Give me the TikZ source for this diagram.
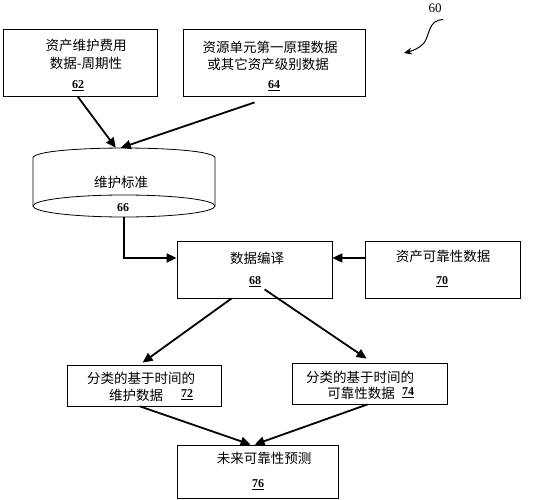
\documentclass[tikz,border=0pt]{standalone}
\usepackage{fontspec}
\setmainfont{Liberation Serif}
\newfontfamily\cjk{Noto Sans CJK SC}
\usetikzlibrary{arrows.meta,calc}
\tikzset{
  box/.style={draw, line width=0.8pt, inner sep=0pt, anchor=center},
  zh/.style={inner sep=0pt, anchor=center, font=\cjk\fontsize{13.5}{15}\selectfont},
  num/.style={inner sep=0pt, anchor=center, font=\fontsize{12}{14}\selectfont\bfseries},
  flow/.style={line width=1.8pt, -{Triangle[length=10pt,width=9pt]}},
}
\begin{document}
\begin{tikzpicture}[x=1pt,y=-1pt]
\useasboundingbox (0,0) rectangle (552,500);
% boxes
\node[box, minimum width=154pt, minimum height=67pt] (b62) at (80,62.5) {};
\node[box, minimum width=182pt, minimum height=67pt] (b64) at (274,62.5) {};
\node[box, minimum width=155pt, minimum height=57pt] (b68) at (254.5,269.5) {};
\node[box, minimum width=155pt, minimum height=57pt] (b70) at (442.5,269.5) {};
\node[box, minimum width=154pt, minimum height=41pt] (b72) at (144,385.5) {};
\node[box, minimum width=155pt, minimum height=41pt] (b74) at (369.5,383.5) {};
\node[box, minimum width=161pt, minimum height=53pt] (b76) at (257.5,471.5) {};
% cylinder
\node[inner sep=0pt, minimum width=182pt, minimum height=69pt] (c66) at (124,182.5) {};
\draw[line width=0.8pt] (33,206) -- (33,158) .. controls (33,144.7) and (215,144.7) .. (215,158) -- (215,206);
\draw[line width=0.8pt] (124,206) ellipse [x radius=91, y radius=11];
% texts
\node[zh] (t62a) at (86,45) {资产维护费用};
\node[zh] (t62b) at (86,63) {数据-周期性};
\node[num] (n62) at (78,86) {\underline{62}};
\node[zh] (t64a) at (270,47) {资源单元第一原理数据};
\node[zh] (t64b) at (268,64) {或其它资产级别数据};
\node[num] (n64) at (274,86) {\underline{64}};
\node[zh] (t66) at (121,182) {维护标准};
\node[num] (n66) at (123,208) {66};
\node[zh] (t68) at (257,258) {数据编译};
\node[num] (n68) at (255,282) {\underline{68}};
\node[zh] (t70) at (443,256) {资产可靠性数据};
\node[num] (n70) at (442,282) {\underline{70}};
\node[zh] (t72a) at (141,378) {分类的基于时间的};
\node[zh] (t72b) at (136,395) {维护数据};
\node[num] (n72) at (187,395) {\underline{72}};
\node[zh] (t74a) at (360,377) {分类的基于时间的};
\node[zh] (t74b) at (361,393) {可靠性数据};
\node[num] (n74) at (408,393) {\underline{74}};
\node[zh] (t76) at (264,458) {未来可靠性预测};
\node[num] (n76) at (258,485) {\underline{76}};
\node[inner sep=0pt, font=\fontsize{13}{15}\selectfont] (l60) at (435,8) {60};
% connectors
\coordinate (s62) at ($(b62.south west)+(75,0)$);
\coordinate (s64) at ($(b64.south west)+(72,6)$);
\coordinate (e1) at ($(c66.north west)+(83,0)$);
\coordinate (e2) at ($(c66.north west)+(88,0)$);
\draw[flow] (s62) -- (e1);
\draw[flow] (s64) -- (e2);
\draw[flow] (c66.south) |- (b68.west |- t68);
\draw[flow] (b70.west |- t68) -- (b68.east |- t68);
\coordinate (s68a) at ($(b68.south west)+(55,0)$);
\coordinate (s68b) at ($(b68.south west)+(88,-9)$);
\coordinate (e72) at ($(b72.north west)+(76,-2)$);
\coordinate (e74) at ($(b74.north west)+(75,-4)$);
\draw[flow] (s68a) -- (e72);
\draw[flow] (s68b) -- (e74);
\coordinate (e76a) at ($(b76.north west)+(74,0)$);
\coordinate (e76b) at ($(b76.north west)+(78,0)$);
\draw[flow] (b72.south) ++(-4,0) coordinate (s72) -- (e76a);
\draw[flow] (b74.south) ++(-2,0) coordinate (s74) -- (e76b);
% reference arrow 60
\coordinate (s60) at ($(l60.south)+(8,7)$);
\coordinate (e60) at (404,53);
\draw[line width=1pt, -{Stealth[length=8pt,width=7pt]}] (s60) .. controls (428,20) and (430,35) .. (424,43) .. controls (420,48) and (412,51) .. (e60);
\end{tikzpicture}
\end{document}
